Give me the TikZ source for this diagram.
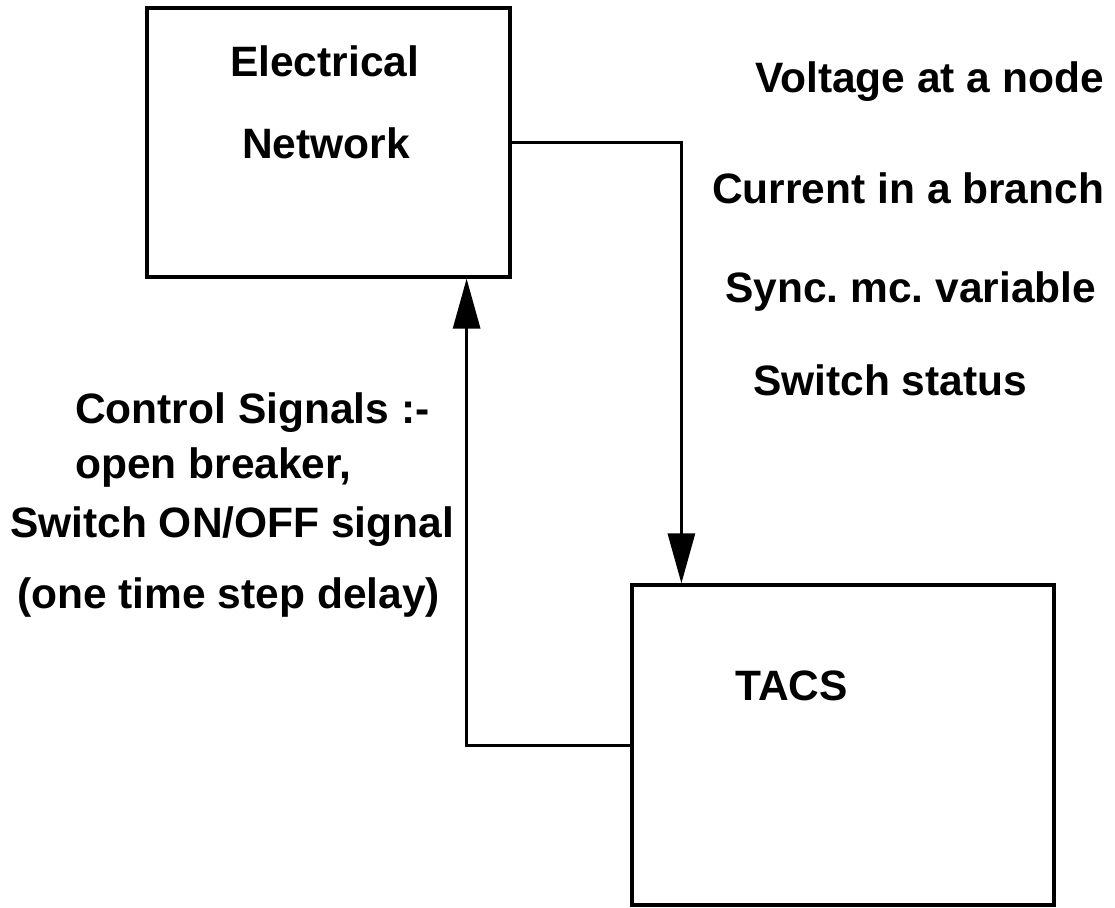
\documentclass[tikz,border=0pt]{standalone}
\usepackage{fontspec}
\setmainfont{Liberation Sans}
\usetikzlibrary{arrows.meta}
\begin{document}
\frenchspacing
\begin{tikzpicture}[
    x=1pt, y=-1pt,
    block/.style={
        rectangle,
        draw=black,
        line width=3.2pt,
        inner sep=0pt
    },
    caption/.style={
        anchor=base west,
        inner sep=0pt,
        font=\fontsize{42.5}{50}\selectfont\bfseries
    },
    signal/.style={
        -{Triangle[length=50pt,width=27pt]},
        line width=3pt
    }
]

\useasboundingbox (0,0) rectangle (1115,907);

%% --- Blocs ---
\node[block, minimum width=363pt, minimum height=269pt] (enet) at (328.5,142.5) {};
\node[block, minimum width=422pt, minimum height=320pt] (tacs) at (843,745) {};

%% --- Textes des blocs ---
\node[caption] (enet1) at (230,77)  {Electrical};
\node[caption] (enet2) at (242,158) {Network};
\node[caption] (tacs1) at (735,700) {TACS};

%% --- Grandeurs mesurées ---
\node[caption] (meas1) at (755,92)  {Voltage at a node};
\node[caption] (meas2) at (712,203) {Current in a branch};
\node[caption] (meas3) at (725,302) {Sync. mc. variable};
\node[caption] (meas4) at (753,395) {Switch status};

%% --- Signaux de commande ---
\node[caption] (ctrl1) at (75,423) {Control Signals :-};
\node[caption] (ctrl2) at (75,478) {open breaker,};
\node[caption] (ctrl3) at (10,537) {Switch ON/OFF signal};
\node[caption] (ctrl4) at (17,608) {(one time step delay)};

%% --- Connexions ---
\draw[signal] (enet.east) -| ([xshift=51pt]tacs.north west);
\draw[signal] (tacs.west) -| ([xshift=-45pt]enet.south east);

\end{tikzpicture}
\end{document}
